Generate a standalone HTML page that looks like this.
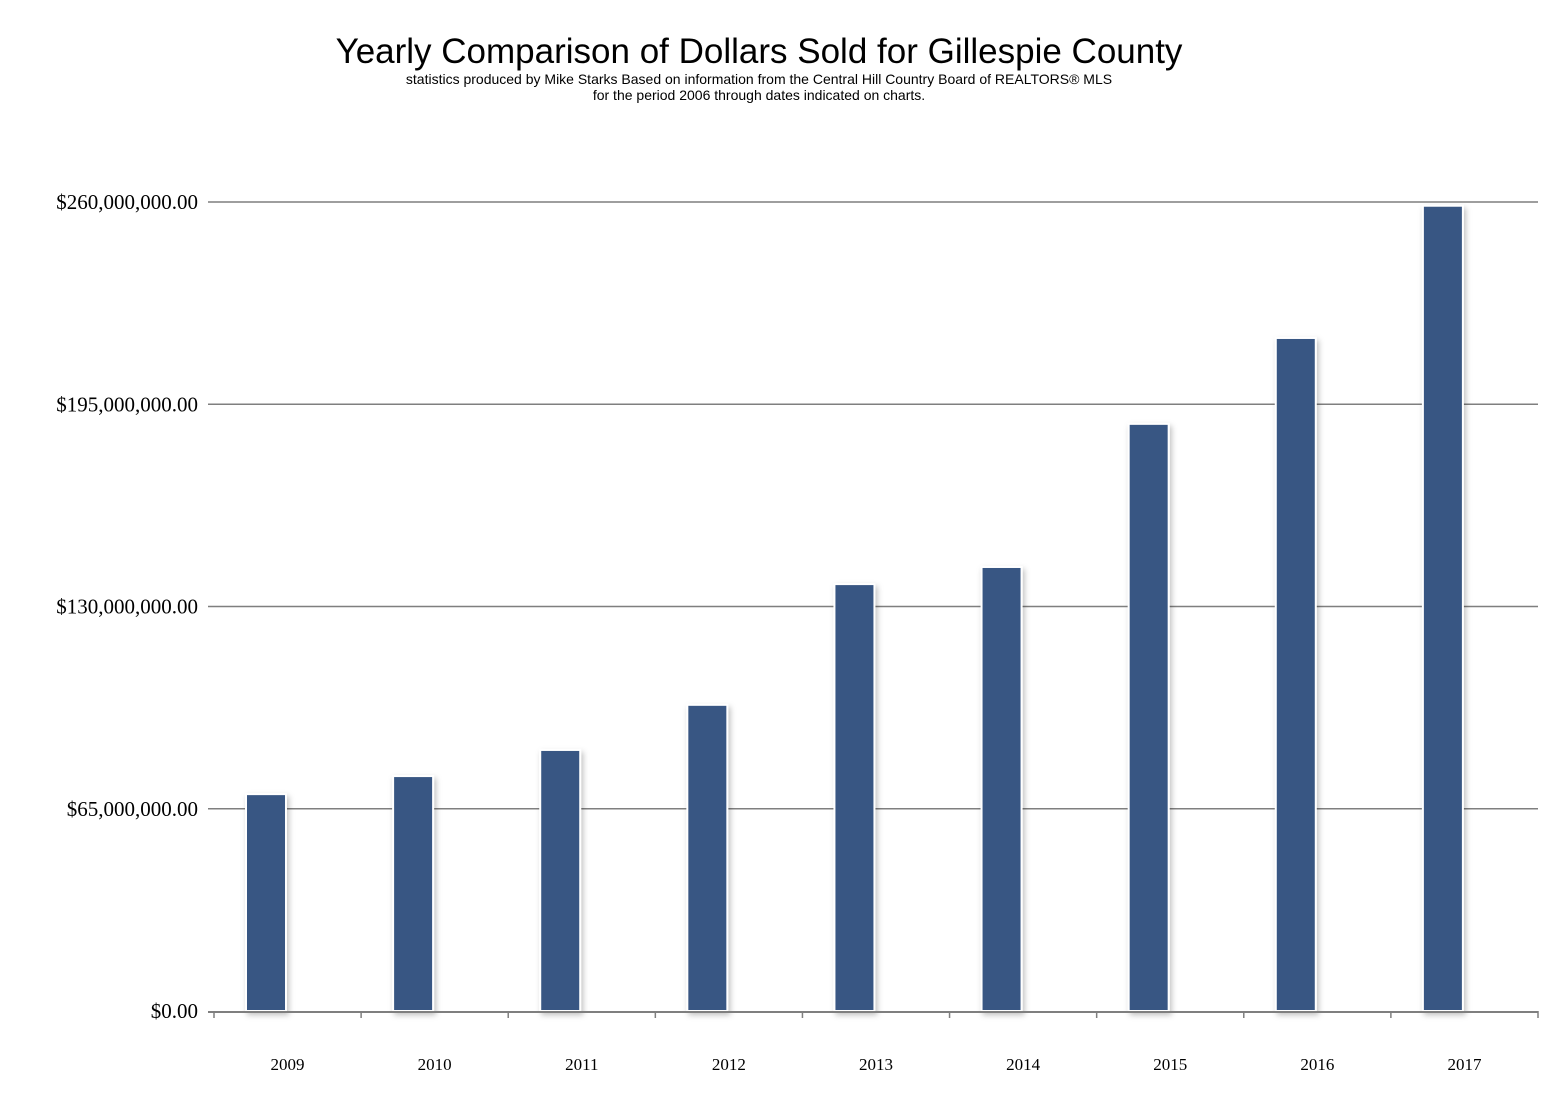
<!DOCTYPE html>
<html><head><meta charset="utf-8"><style>
body{margin:0;background:#fff;}
svg{display:block;}
</style></head><body>
<svg width="1564" height="1108" xmlns="http://www.w3.org/2000/svg">
<defs><filter id="sh" x="-30%" y="-10%" width="160%" height="130%"><feDropShadow dx="2" dy="3" stdDeviation="3" flood-color="#000" flood-opacity="0.25"/></filter></defs>
<text x="759" y="63" text-anchor="middle" font-family="Liberation Sans, sans-serif" font-size="35" fill="#000">Yearly Comparison of Dollars Sold for Gillespie County</text>
<text x="759" y="84" text-anchor="middle" font-family="Liberation Sans, sans-serif" font-size="14" fill="#000">statistics produced by Mike Starks Based on information from the Central Hill Country Board of REALTORS® MLS</text>
<text x="759" y="100" text-anchor="middle" font-family="Liberation Sans, sans-serif" font-size="14" fill="#000">for the period  2006 through dates indicated on charts.</text>
<g id="grid"></g><g id="bars"></g><g id="axis"></g>
</svg>
<script>
const categories=["2009","2010","2011","2012","2013","2014","2015","2016","2017"];
const values=[69.7,75.5,83.9,98.4,137.2,142.7,188.7,216.3,258.8];
const tickValues=[0,65,130,195,260];
const tickLabels=["$0.00","$65,000,000.00","$130,000,000.00","$195,000,000.00","$260,000,000.00"];
const NS="http://www.w3.org/2000/svg";
const x0=214,x1=1538,y0=1011,y1=202,maxV=260;
const cw=(x1-x0)/categories.length;
function yScale(v){return y0-(v/maxV)*(y0-y1);}
function xScale(i){return x0+i*cw;}
function mk(t,a,p){const e=document.createElementNS(NS,t);for(const k in a)e.setAttribute(k,a[k]);p.appendChild(e);return e;}
const grid=document.getElementById('grid'),bars=document.getElementById('bars'),axis=document.getElementById('axis');
tickValues.forEach((v,i)=>{
 const y=yScale(v);
 if(v>0){const l=mk('line',{x1:208,x2:x1,y1:y,y2:y,stroke:'#7f7f7f','stroke-width':1.5},grid);
 
 }
 const t=mk('text',{x:198,y:y+7,'text-anchor':'end','font-family':'Liberation Serif, serif','font-size':21,fill:'#000'},axis);
 t.textContent=tickLabels[i];
 
 
});
values.forEach((v,i)=>{
 const y=yScale(v);
 const r=mk('rect',{x:xScale(i)+32,y:y,width:40,height:y0-y,fill:'#385683',stroke:'#fff','stroke-width':2,filter:'url(#sh)'},bars);
 
 
 const t=mk('text',{x:xScale(i)+cw/2,y:1070,'text-anchor':'middle','font-family':'Liberation Serif, serif','font-size':17,fill:'#000'},axis);
 t.textContent=categories[i];
 
 
});
const ax=mk('line',{x1:208,x2:x1,y1:y0+1,y2:y0+1,stroke:'#7f7f7f','stroke-width':2},axis);


for(let i=0;i<=categories.length;i++){
 const tk=mk('line',{x1:xScale(i),x2:xScale(i),y1:y0,y2:y0+7,stroke:'#7f7f7f','stroke-width':1.5},axis);
 
 
}
</script>
</body></html>
